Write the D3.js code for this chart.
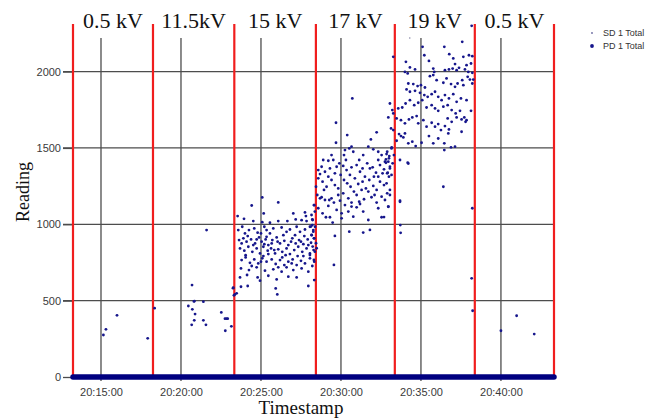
<!DOCTYPE html>
<html>
<head>
<meta charset="utf-8">
<script src="https://cdn.jsdelivr.net/npm/d3@7"></script>
<style>
    body { margin: 0; background: #fff; }
    svg { display: block; }
    .tick text { font-family: "Liberation Sans", Arial, sans-serif; font-size: 11px; fill: #3a3a3a; }
    .serif { font-family: "Liberation Serif", "Times New Roman", serif; fill: #111; }
</style>
</head>
<body>
<svg id="chart" width="649" height="419"></svg>
<script>
// readings: [minutes past 20:00, value]
const segmentLabels = ["0.5 kV", "11.5kV", "15 kV", "17 kV", "19 kV", "0.5 kV"];
const segmentBounds = ["20:13:15", "20:18:15", "20:23:20", "20:28:26", "20:33:22", "20:38:22", "20:43:19"];
const xTickLabels = ["20:15:00", "20:20:00", "20:25:00", "20:30:00", "20:35:00", "20:40:00"];
const yTickValues = [0, 500, 1000, 1500, 2000];
const seriesNames = ["SD 1 Total", "PD 1 Total"];
const zeroRun = ["20:13:15", "20:43:19"];

const sdPoints = [[34.3, 2220]];

const pdLow = [
    [15.15, 275], [15.31, 312], [16.0, 404], [17.92, 253], [18.35, 451],
    [20.46, 465], [20.67, 342], [20.69, 602], [20.71, 443], [20.81, 495], [20.84, 497],
    [20.83, 371], [20.88, 412], [21.4, 493], [21.4, 371], [21.56, 342], [21.6, 962],
    [22.52, 423], [22.75, 382], [22.77, 303], [22.85, 382], [22.92, 382], [23.15, 332],
    [23.25, 582], [23.31, 535], [23.37, 541]
];

const pd15 = [
    [23.54, 1054], [23.94, 1036], [24.42, 1123], [25.08, 1176], [25.17, 1071], [26.08, 1143],
    [27.02, 1071], [27.75, 1078], [27.81, 1054], [28.33, 1125], [24.52, 1021], [25.08, 1014],
    [25.56, 1010], [26.08, 1021], [26.65, 1021], [27.17, 1032], [27.54, 1027], [27.85, 1021],
    [28.21, 1032], [28.21, 995], [23.58, 962], [23.83, 984], [24.0, 940], [24.25, 962],
    [24.58, 973], [24.79, 945], [25.21, 984], [25.35, 962], [25.56, 940], [25.77, 973],
    [26.29, 979], [26.6, 951], [26.81, 966], [27.23, 984], [27.44, 951], [27.75, 966],
    [28.06, 984], [28.27, 962], [23.63, 897], [23.9, 908], [24.1, 886], [24.38, 901],
    [24.63, 875], [24.88, 914], [25.04, 886], [25.29, 901], [25.46, 864], [25.71, 897],
    [25.98, 914], [26.19, 875], [26.46, 892], [26.71, 864], [26.96, 908], [27.17, 875],
    [27.38, 897], [27.65, 870], [27.92, 901], [28.13, 879], [28.33, 908], [23.69, 842],
    [23.96, 827], [24.21, 853], [24.46, 820], [24.73, 842], [24.94, 809], [25.15, 853],
    [25.42, 827], [25.63, 842], [25.88, 809], [26.08, 836], [26.33, 820], [26.6, 842],
    [26.81, 805], [27.08, 831], [27.33, 853], [27.58, 820], [27.85, 842], [28.06, 809],
    [28.29, 831], [23.79, 766], [24.04, 783], [24.31, 748], [24.58, 770], [24.83, 744],
    [25.08, 777], [25.35, 755], [25.67, 770], [25.92, 740], [26.19, 766], [26.46, 733],
    [26.71, 755], [26.98, 770], [27.23, 733], [27.5, 761], [27.75, 744], [28.06, 777],
    [28.33, 755], [23.75, 711], [24.25, 700], [24.73, 718], [25.25, 696], [25.77, 705],
    [26.29, 690], [26.6, 718], [27.02, 700], [27.54, 711], [27.96, 690], [23.69, 652],
    [24.13, 668], [24.79, 652], [25.46, 663], [25.98, 639], [26.71, 657], [27.23, 652],
    [28.33, 635], [23.75, 591], [24.17, 596], [24.94, 631], [25.92, 580], [27.96, 596],
    [26.02, 541], [23.27, 585], [23.48, 548],
    [23.79, 875], [24.17, 923], [24.52, 864], [24.73, 901], [25.0, 940], [25.21, 870],
    [25.35, 918], [25.67, 875], [25.83, 831], [26.04, 886], [26.4, 929], [26.54, 798],
    [26.88, 886], [27.13, 929], [27.29, 792], [27.5, 886], [27.71, 923], [27.96, 864],
    [28.17, 929], [28.38, 984], [24.04, 798], [25.15, 792], [26.33, 783], [27.65, 792],
    [24.42, 727], [26.08, 718], [26.92, 744], [28.21, 727], [25.46, 805], [25.0, 755]
];

const pd17 = [
    [30.71, 1824], [29.69, 1665], [29.69, 1534], [30.39, 1584], [32.23, 1602], [31.87, 1556],
    [30.25, 1486], [30.52, 1497], [30.66, 1508], [30.19, 1453], [30.77, 1475], [31.39, 1453],
    [31.71, 1508], [32.02, 1491], [32.33, 1475], [32.54, 1453], [32.81, 1425], [32.89, 1475],
    [33.16, 1497], [33.31, 1453], [28.89, 1421], [29.21, 1416], [29.52, 1421],
    [28.58, 1355], [28.79, 1377], [29.0, 1344], [29.31, 1366], [29.62, 1334], [30.14, 1382],
    [30.35, 1355], [30.66, 1373], [30.98, 1388], [31.19, 1344], [31.35, 1366], [31.64, 1399],
    [31.98, 1373], [32.19, 1338], [32.44, 1388], [32.69, 1360], [32.96, 1410], [33.06, 1377],
    [33.16, 1323], [32.89, 1334], [28.58, 1301], [28.85, 1279], [29.1, 1246], [29.41, 1290],
    [29.62, 1257], [29.83, 1235], [30.19, 1290], [30.39, 1268], [30.6, 1246], [30.87, 1301],
    [31.08, 1264], [31.35, 1279], [31.56, 1235], [31.77, 1290], [32.02, 1251], [32.23, 1225],
    [32.44, 1279], [32.69, 1257], [32.89, 1203], [32.33, 1312], [28.31, 1126], [28.52, 1192],
    [28.79, 1177], [29.0, 1159], [29.27, 1159], [29.41, 1170], [29.56, 1142], [29.83, 1192],
    [29.94, 1155], [30.14, 1203], [30.46, 1170], [30.66, 1142], [30.98, 1192], [31.19, 1133],
    [31.44, 1164], [31.71, 1214], [31.91, 1177], [32.23, 1142], [32.54, 1181], [32.96, 1116],
    [28.37, 1083], [28.58, 1105], [28.85, 1072], [29.06, 1046], [29.31, 1046], [29.48, 1011],
    [30.04, 1072], [30.46, 1083], [30.66, 1116], [30.98, 1111], [31.39, 1083], [31.71, 1028],
    [32.33, 1105], [32.54, 1046], [31.39, 946], [31.81, 963], [30.52, 952], [29.62, 924],
    [30.04, 1039], [28.16, 1061], [28.23, 1028], [28.12, 985], [28.27, 952], [28.16, 930],
    [28.31, 908], [28.44, 876], [28.23, 854], [28.37, 821], [28.06, 799], [28.48, 843],
    [28.31, 767], [29.56, 734],
    [28.69, 1329], [29.21, 1312], [29.73, 1377], [29.98, 1323], [30.31, 1421], [30.56, 1323],
    [30.81, 1214], [31.14, 1421], [31.29, 1225], [31.5, 1312], [31.81, 1366], [32.06, 1312],
    [32.33, 1421], [32.6, 1334], [32.75, 1410], [33.02, 1447], [33.23, 1399], [28.94, 1225],
    [28.69, 1170], [29.21, 1120], [29.73, 1094], [30.25, 1126], [30.77, 1050], [31.14, 1148],
    [32.1, 1192], [32.75, 1159], [33.06, 1225], [28.44, 1246], [29.9, 1399], [29.41, 1453]
];

const pd19 = [
    [35.1, 2162], [36.46, 2162], [37.58, 2195], [35.21, 2107], [36.77, 2114], [38.21, 2101],
    [38.0, 2107], [37.65, 2097], [37.02, 2086], [35.5, 2070], [37.13, 2049], [38.13, 2053],
    [37.85, 2042], [34.06, 2064], [33.27, 2097], [34.31, 2027], [34.0, 1998], [34.17, 1988],
    [34.63, 2014], [35.77, 2020], [35.83, 1998], [36.5, 2009], [36.75, 2014], [36.98, 2020],
    [37.23, 2009], [37.38, 2025], [37.75, 2014], [37.96, 1998], [38.21, 1992], [38.06, 1948],
    [34.21, 1922], [34.52, 1918], [34.79, 1905], [35.0, 1911], [35.25, 1896], [35.56, 1970],
    [35.77, 1977], [35.98, 1944], [36.4, 1927], [36.6, 1955], [36.88, 1918], [37.13, 1900],
    [37.29, 1922], [37.58, 1944], [37.92, 1966], [38.27, 1948], [38.21, 1922], [37.65, 1911],
    [34.1, 1883], [34.31, 1868], [34.63, 1874], [34.94, 1861], [35.21, 1846], [35.42, 1835],
    [35.67, 1852], [35.88, 1868], [36.08, 1835], [36.29, 1813], [36.5, 1846], [36.75, 1824],
    [37.02, 1852], [37.23, 1802], [37.5, 1824], [37.85, 1813], [38.13, 1743], [33.58, 1759],
    [33.83, 1765], [34.04, 1791], [34.31, 1813], [34.58, 1780], [34.83, 1796], [35.08, 1813],
    [35.35, 1765], [35.67, 1780], [35.88, 1759], [36.08, 1743], [36.4, 1770], [36.67, 1780],
    [36.92, 1748], [37.17, 1726], [37.44, 1743], [37.71, 1700], [37.85, 1682],
    [33.48, 1693], [33.75, 1682], [34.0, 1661], [34.25, 1687], [34.46, 1700], [34.73, 1709],
    [34.83, 1661], [35.15, 1682], [35.35, 1639], [35.67, 1665], [35.88, 1639], [36.08, 1656],
    [36.25, 1617], [36.5, 1643], [36.75, 1621], [36.92, 1671], [37.23, 1700], [37.54, 1687],
    [37.79, 1671], [36.67, 1693], [33.27, 1617], [33.63, 1591], [33.75, 1578], [33.9, 1569],
    [34.0, 1595], [34.21, 1530], [34.46, 1541], [34.67, 1512], [35.04, 1534], [35.5, 1578],
    [35.77, 1530], [36.08, 1562], [36.46, 1530], [36.71, 1595], [36.88, 1504], [37.13, 1508],
    [37.54, 1606], [36.46, 1486], [33.06, 1791], [33.21, 1748], [32.96, 1700], [33.13, 1628],
    [33.27, 1726], [33.48, 1547], [33.17, 1504], [33.69, 1421], [34.17, 1403],
    [32.85, 1460], [33.0, 1432], [32.81, 1403], [33.06, 1366], [32.92, 1338], [33.0, 1312],
    [32.85, 1268], [33.06, 1192], [33.69, 1155], [36.4, 1246], [38.21, 1105],
    [33.69, 1147], [33.71, 995], [33.73, 944], [34.21, 1398], [32.96, 1115], [32.69, 1047],
    [38.17, 2300]
];

const pdTail = [[38.17, 646], [38.23, 434], [40.0, 303], [40.98, 401], [42.08, 281]];

const parseTime = d3.timeParse("%H:%M:%S");
const base = parseTime("20:00:00");
function atMinute(m) {
    return new Date(base.getTime() + m * 60000);
}

const svg = d3.select("#chart"),
    plotLeft = 73, plotRight = 554, plotTop = 38, plotBottom = 377;

const x = d3.scaleTime()
    .domain([parseTime(segmentBounds[0]), parseTime(segmentBounds[segmentBounds.length - 1])])
    .range([plotLeft, plotRight]);
const y = d3.scaleLinear().domain([0, 2220]).range([plotBottom, plotTop]);

const gridColor = "#4d4d4d";

// vertical grid
svg.append("g").selectAll("line")
    .data(xTickLabels.map(parseTime))
    .enter().append("line")
    .attr("x1", d => x(d)).attr("x2", d => x(d))
    .attr("y1", plotTop).attr("y2", plotBottom + 4)
    .attr("stroke", gridColor).attr("stroke-width", 1.3);

// horizontal grid
svg.append("g").selectAll("line")
    .data(yTickValues.filter(v => v > 0))
    .enter().append("line")
    .attr("x1", plotLeft - 10).attr("x2", plotRight)
    .attr("y1", d => y(d)).attr("y2", d => y(d))
    .attr("stroke", gridColor).attr("stroke-width", 1.3);

const yAxis = svg.append("g")
    .attr("transform", `translate(${plotLeft},0)`)
    .call(d3.axisLeft(y).tickValues(yTickValues).tickFormat(d3.format("d"))
        .tickSize(10).tickPadding(2));
yAxis.select(".domain").remove();
yAxis.selectAll(".tick line").attr("stroke", gridColor).attr("stroke-width", 1.3);

const xAxis = svg.append("g")
    .attr("transform", `translate(0,${plotBottom})`)
    .call(d3.axisBottom(x).tickValues(xTickLabels.map(parseTime))
        .tickFormat(d3.timeFormat("%H:%M:%S")).tickSize(0).tickPadding(11));
xAxis.select(".domain").remove();

// voltage step boundaries
svg.append("g").selectAll("line")
    .data(segmentBounds.map(parseTime))
    .enter().append("line")
    .attr("x1", d => x(d)).attr("x2", d => x(d))
    .attr("y1", 24).attr("y2", plotBottom)
    .attr("stroke", "#f01e1e").attr("stroke-width", 2.2);

svg.append("g").selectAll("text")
    .data(segmentLabels)
    .enter().append("text")
    .attr("class", "serif")
    .attr("x", (d, i) => (x(parseTime(segmentBounds[i])) + x(parseTime(segmentBounds[i + 1]))) / 2)
    .attr("y", 28)
    .attr("text-anchor", "middle")
    .style("font-size", "22px")
    .text(d => d);

const dotColor = "#16168c";
const pdPoints = pdLow.concat(pd15, pd17, pd19, pdTail);

svg.append("g").selectAll("circle")
    .data(pdPoints)
    .enter().append("circle")
    .attr("cx", d => x(atMinute(d[0])))
    .attr("cy", d => y(d[1]))
    .attr("r", 1.4)
    .attr("fill", dotColor);

svg.append("g").selectAll("circle")
    .data(sdPoints)
    .enter().append("circle")
    .attr("cx", d => x(atMinute(d[0])))
    .attr("cy", d => y(d[1]))
    .attr("r", 0.8)
    .attr("fill", "#8a8aa8");

// continuous zero readings
svg.append("path")
    .datum(zeroRun.map(parseTime))
    .attr("d", d3.line().x(d => x(d)).y(() => y(0)))
    .attr("stroke", "#000080")
    .attr("stroke-width", 5.5)
    .attr("stroke-linecap", "round")
    .attr("fill", "none");

// legend
const legend = svg.append("g").attr("transform", "translate(592,33)");
legend.selectAll("circle")
    .data(seriesNames)
    .enter().append("circle")
    .attr("cx", 0).attr("cy", (d, i) => i * 13)
    .attr("r", (d, i) => i ? 1.9 : 0.9)
    .attr("fill", (d, i) => i ? dotColor : "#6a6aa0");
legend.selectAll("text")
    .data(seriesNames)
    .enter().append("text")
    .attr("x", 11).attr("y", (d, i) => i * 13 + 3.2)
    .style("font-family", "'Liberation Sans', Arial, sans-serif")
    .style("font-size", "9px")
    .attr("fill", "#333")
    .text(d => d);

svg.append("text")
    .attr("class", "serif")
    .attr("transform", "translate(29,192) rotate(-90)")
    .attr("text-anchor", "middle")
    .style("font-size", "18px")
    .text("Reading");

svg.append("text")
    .attr("class", "serif")
    .attr("x", 301).attr("y", 414)
    .attr("text-anchor", "middle")
    .style("font-size", "19px")
    .text("Timestamp");
</script>
</body>
</html>
